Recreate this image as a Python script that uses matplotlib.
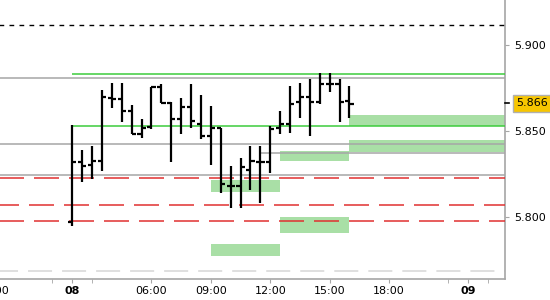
import matplotlib
matplotlib.use('Agg')
import matplotlib.pyplot as plt
import matplotlib.transforms as mtransforms
from matplotlib.patches import Rectangle

plt.rcParams['font.family'] = ['DejaVu Sans']
plt.rcParams['lines.scale_dashes'] = False

# 30 minute OHLC bars, index 0 = start of the 08 session
opens  = [5.7974, 5.8318, 5.8303, 5.8326, 5.8690, 5.8686, 5.8616, 5.8484, 5.8525, 5.8757,
          5.8664, 5.8570, 5.8639, 5.8542, 5.8471, 5.8516, 5.8183, 5.8183, 5.8274, 5.8318,
          5.8318, 5.8516, 5.8542, 5.8667, 5.8696, 5.8667, 5.8773, 5.8773, 5.8674]
highs  = [5.8535, 5.8390, 5.8413, 5.8738, 5.8777, 5.8777, 5.8651, 5.8570, 5.8757, 5.8771,
          5.8670, 5.8690, 5.8771, 5.8709, 5.8647, 5.8516, 5.8297, 5.8342, 5.8413, 5.8413,
          5.8531, 5.8616, 5.8761, 5.8777, 5.8802, 5.8835, 5.8835, 5.8802, 5.8761]
lows   = [5.7949, 5.8202, 5.8220, 5.8270, 5.8632, 5.8550, 5.8481, 5.8458, 5.8512, 5.8661,
          5.8318, 5.8481, 5.8519, 5.8452, 5.8303, 5.8138, 5.8051, 5.8055, 5.8158, 5.8080,
          5.8258, 5.8481, 5.8490, 5.8574, 5.8473, 5.8655, 5.8725, 5.8550, 5.8574]
closes = [5.8318, 5.8299, 5.8326, 5.8699, 5.8686, 5.8616, 5.8481, 5.8516, 5.8757, 5.8664,
          5.8570, 5.8639, 5.8558, 5.8471, 5.8516, 5.8191, 5.8183, 5.8293, 5.8326, 5.8318,
          5.8510, 5.8542, 5.8658, 5.8696, 5.8667, 5.8773, 5.8773, 5.8667, 5.8658]
last_price = 5.866

# x axis ticks (bar index)
tick_pos = [-8, 0, 8, 14, 20, 26, 32, 40]
tick_labels = ['21:00', '08', '06:00', '09:00', '12:00', '15:00', '18:00', '09']
minor_pos = [-2, 2, 38, 42]

# horizontal levels
green_levels = [5.8829, 5.8527]
grey_levels = [5.8806, 5.8423, 5.8245]
grey_short_level = 5.8371
red_levels = [5.8225, 5.8071, 5.7978]
black_dash_level = 5.9115
light_dash_level = 5.7687

# zones: (start bar, end bar, low, high)
zones = [(14, 21, 5.8146, 5.8216), (14, 21, 5.7775, 5.7844),
         (21, 28, 5.8326, 5.8384), (21, 28, 5.7906, 5.8003),
         (28, 60, 5.8529, 5.8593), (28, 60, 5.8380, 5.8448)]

fig = plt.figure(figsize=(5.5, 3.0), dpi=100)
ax = fig.add_axes([-30 / 550, 21 / 300, 535 / 550, 279 / 300])
ax.set_xlim(-10.33, 43.71)
ax.set_ylim(5.7641, 5.9260)

grey = '#a6a6a6'
for x0, x1, lo, hi in zones:
    ax.add_patch(Rectangle((x0, lo), x1 - x0, hi - lo, facecolor='#a9dfa6',
                           edgecolor='none', zorder=1))

for lv in grey_levels:
    ax.axhline(lv, color=grey, lw=1.1, zorder=2)
ax.hlines(grey_short_level, 19, 60, color=grey, lw=1.1, zorder=2)
for lv in green_levels:
    ax.hlines(lv, 0, 60, color='#3ccc3c', lw=1.1, zorder=3)
ax.axhline(red_levels[0], color='#e03030', lw=1.1, ls=(0, (18, 7.2)), zorder=3)
ax.axhline(red_levels[1], color='#e03030', lw=1.1, ls=(3.6, (18, 7.2)), zorder=3)
ax.axhline(red_levels[2], color='#e03030', lw=1.1, ls=(0, (18, 7.2)), zorder=3)
ax.axhline(black_dash_level, color='black', lw=1.0, ls=(0, (3.4, 3.8)), zorder=3)
ax.axhline(light_dash_level, color='#d6d6d6', lw=1.1, ls=(3.6, (17.3, 7.2)), zorder=2)

# OHLC bars
xs = list(range(len(opens)))
ax.vlines(xs, lows, highs, color='black', lw=1.6, zorder=5)
ax.hlines(opens, [x - 0.42 for x in xs], xs, color='black', lw=1.6, zorder=5)
ax.hlines(closes, xs, [x + 0.42 for x in xs], color='black', lw=1.6, zorder=5)

# axes styling
for s in ['top', 'left']:
    ax.spines[s].set_visible(False)
ax.spines['right'].set_color(grey)
ax.spines['bottom'].set_color(grey)
ax.spines['right'].set_linewidth(1.2)
ax.spines['bottom'].set_linewidth(1.2)

ax.yaxis.tick_right()
ax.set_yticks([5.80, 5.85, 5.90])
ax.set_yticklabels(['5.800', '5.850', '5.900'])
ax.tick_params(axis='y', which='major', length=3, color=grey, pad=3.5, labelsize=8)

ax.set_xticks(tick_pos)
ax.set_xticklabels(tick_labels)
ax.set_xticks(minor_pos, minor=True)
ax.tick_params(axis='x', which='both', length=3, color=grey, pad=2, labelsize=8)
for lbl in ax.get_xticklabels():
    if lbl.get_text() in ('08', '09'):
        lbl.set_fontweight('bold')

# last price marker and label
trans = mtransforms.blended_transform_factory(ax.transAxes, ax.transData)
ax.plot([1, 1.0075], [last_price, last_price], color='black', lw=1.2,
        transform=trans, clip_on=False, zorder=6)
ax.text(1.0206, last_price, '%.3f' % last_price, transform=trans, fontsize=8,
        va='center', ha='left', color='black',
        bbox=dict(boxstyle='square,pad=0.3', facecolor='#f7c600', edgecolor='#b0b0b0', lw=1))

fig.savefig('out.png', dpi=100)
